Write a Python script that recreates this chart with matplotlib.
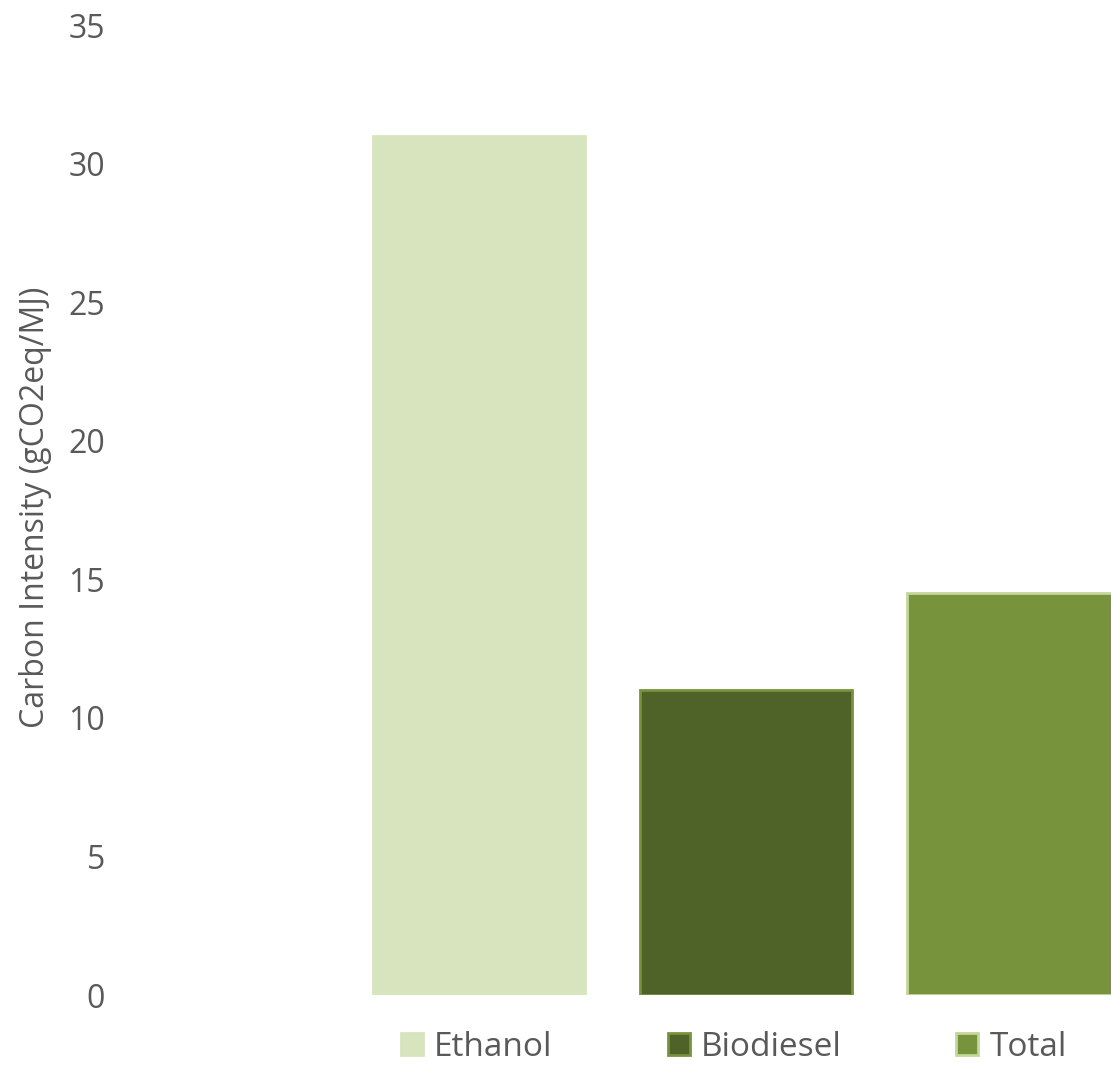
import numpy as np
import matplotlib
matplotlib.use("Agg")
import matplotlib.pyplot as plt

plt.rcParams['font.family'] = ['Open Sans', 'DejaVu Sans']

# Data
series = ["Ethanol", "Biodiesel", "Total"]
values = [31, 11, 14.5]
fills = ["#D7E4BD", "#4F6228", "#77933C"]
edges = ["#D7E4BD", "#77933C", "#C3D69B"]

TEXT = "#595959"

fig = plt.figure(figsize=(11.11, 10.65), dpi=100)
ax = fig.add_axes([130 / 1111, 70 / 1065, 981 / 1111, 970 / 1065])

x = np.arange(len(series))
for i in range(len(series)):
    ax.bar(x[i], values[i], width=0.794, color=fills[i], edgecolor=edges[i],
           linewidth=2, label=series[i])

ax.set_ylim(0, 35)
ax.set_yticks(np.arange(0, 36, 5))
ax.set_xlim(-1.307, 2.367)
ax.set_xticks([])
for s in ax.spines.values():
    s.set_visible(False)
ax.tick_params(axis='y', length=0, pad=18, labelsize=23, labelcolor=TEXT)
ax.set_ylabel("Carbon Intensity (gCO2eq/MJ)", fontsize=23, color=TEXT)
ax.yaxis.set_label_coords(-0.080, 0.503)

leg = ax.legend(loc='center left', bbox_to_anchor=(271 / 981, -52 / 970), ncol=3,
                frameon=False, fontsize=24, handlelength=0.66, handleheight=0.66,
                columnspacing=3.45, handletextpad=0.33, borderpad=0, borderaxespad=0)
for t in leg.get_texts():
    t.set_color(TEXT)

fig.savefig("out.png", dpi=100)
